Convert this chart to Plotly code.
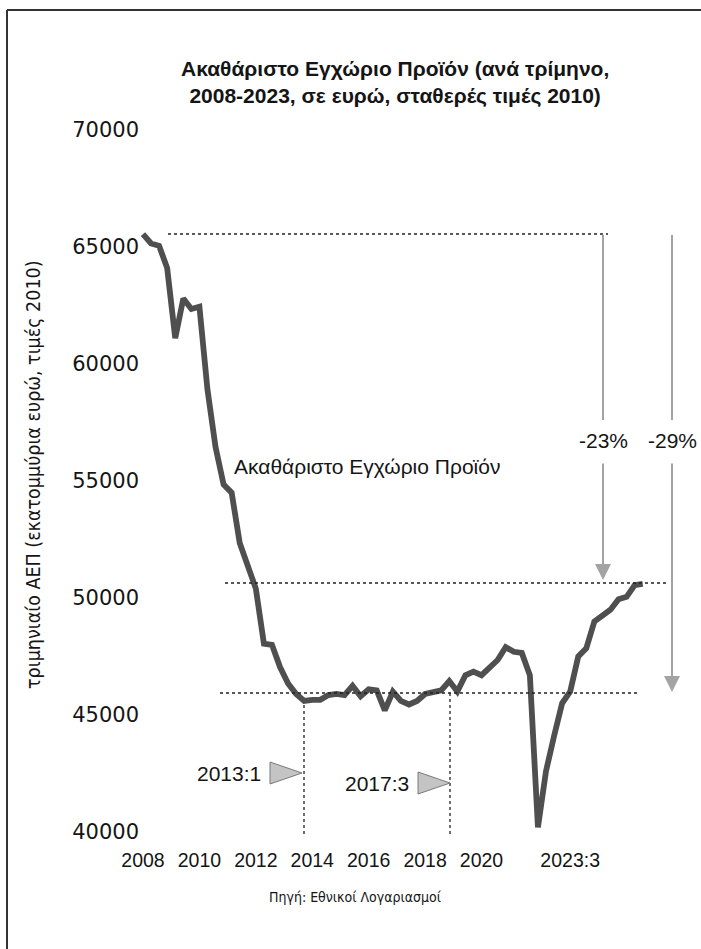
import plotly.graph_objects as go

# ---------------- data ----------------
years = list(range(2008, 2024))
quarters = [f"{y}:{q}" for y in years for q in (1, 2, 3, 4)][:63]   # 2008:1 ... 2023:3

gdp = [65550, 65150, 65050, 64100, 61100, 62800, 62350, 62450,
       58900, 56450, 54850, 54500, 52350, 51450, 50400, 48050,
       48000, 47050, 46350, 45900, 45600, 45650, 45650, 45850,
       45900, 45850, 46250, 45800, 46100, 46050, 45200, 46000,
       45600, 45450, 45600, 45900, 45950, 46050, 46450, 46000,
       46700, 46850, 46700, 47050, 47350, 47900, 47700, 47650,
       46700, 40200, 42600, 44100, 45500, 46000, 47500, 47850,
       49000, 49250, 49500, 49950, 50050, 50550, 50600]

tick_cats = ["2008:1", "2009:4", "2011:3", "2013:2", "2015:1", "2016:4", "2018:3", "2021:2"]
tick_text = ["2008", "2010", "2012", "2014", "2016", "2018", "2020", "2023:3"]
y_ticks = [40000, 45000, 50000, 55000, 60000, 65000, 70000]

title_text = "Ακαθάριστο Εγχώριο Προϊόν (ανά τρίμηνο,<br>2008-2023, σε ευρώ, σταθερές τιμές 2010)"
series_label = "Ακαθάριστο Εγχώριο Προϊόν"
y_title = "τριμηνιαίο ΑΕΠ (εκατομμύρια ευρώ, τιμές 2010)"
source_text = "Πηγή: Εθνικοί Λογαριασμοί"
drop_labels = ["-23%", "-29%"]
marker_labels = ["2013:1", "2017:3"]

# ---------------- layout geometry (pixels) ----------------
W, H = 701, 949
L, R, T, B = 140, 690, 130, 832
PW, PH = R - L, B - T


def px(x):
    return (x - L) / PW


def py(y):
    return (B - y) / PH


FONT = "Liberation Sans, Arial, sans-serif"
NARROW = "Liberation Sans Narrow, DejaVu Sans Condensed, Arial Narrow, Liberation Sans, sans-serif"
LINE_COL = "#4f4f4f"
ARROW_COL = "#a3a3a3"
TXT = "#151515"

fig = go.Figure()
fig.add_trace(go.Scatter(x=quarters, y=gdp, mode="lines",
                         line=dict(color=LINE_COL, width=5.8),
                         showlegend=False, hoverinfo="skip"))

x0 = (L - 143) / 8.06
fig.update_xaxes(type="category", range=[x0, x0 + PW / 8.06],
                 tickmode="array", tickvals=tick_cats, ticktext=tick_text,
                 showgrid=False, zeroline=False, showline=False, ticks="",
                 ticklabelstandoff=14,
                 tickfont=dict(family=FONT, size=19.5, color=TXT))
fig.update_yaxes(range=[40000, 70000], tickmode="array", tickvals=y_ticks,
                 ticktext=[str(v) for v in y_ticks],
                 showgrid=False, zeroline=False, showline=False, ticks="",
                 tickfont=dict(family="DejaVu Sans, sans-serif", size=21, color=TXT))

shapes = []
# frame
shapes.append(dict(type="line", xref="paper", yref="paper", x0=px(7), x1=px(7), y0=py(10), y1=py(960),
                   line=dict(color="#333", width=2)))
shapes.append(dict(type="line", xref="paper", yref="paper", x0=px(7), x1=px(710), y0=py(10), y1=py(10),
                   line=dict(color="#333", width=2)))


def dotted(x_a, y_a, x_b, y_b):
    shapes.append(dict(type="line", xref="paper", yref="paper", x0=px(x_a), x1=px(x_b),
                       y0=py(y_a), y1=py(y_b), line=dict(color="#222", width=1.3, dash="dot")))


dotted(168, 234, 608, 234)
dotted(225, 583, 668, 583)
dotted(220, 693, 640, 693)
dotted(304, 705, 304, 835)
dotted(450, 693, 450, 835)

# arrow shafts (upper parts)
for xa in (603, 672):
    shapes.append(dict(type="line", xref="paper", yref="paper", x0=px(xa), x1=px(xa),
                       y0=py(235), y1=py(420), line=dict(color=ARROW_COL, width=2)))

# gray triangles
for (xl, xr, yc) in ((270, 302, 773), (418, 450, 783)):
    path = f"M {px(xl)} {py(yc - 11)} L {px(xr)} {py(yc)} L {px(xl)} {py(yc + 11)} Z"
    shapes.append(dict(type="path", xref="paper", yref="paper", path=path,
                       fillcolor="#c4c4c4", line=dict(color="#7a7a7a", width=1)))

annotations = []
# lower arrow parts with heads
for xa, ytip in ((603, 580), (672, 692)):
    annotations.append(dict(xref="paper", yref="paper", x=px(xa), y=py(ytip), text="",
                            showarrow=True, axref="pixel", ayref="pixel", ax=0, ay=-(ytip - 462),
                            arrowhead=2, arrowsize=1.6, arrowwidth=2, arrowcolor=ARROW_COL))

annotations.append(dict(xref="paper", yref="paper", x=px(395), y=py(82), text=f"<b>{title_text}</b>",
                        showarrow=False, font=dict(family=FONT, size=21, color=TXT),
                        xanchor="center", yanchor="middle"))
annotations.append(dict(xref="paper", yref="paper", x=px(232), y=py(466), text=series_label,
                        showarrow=False, font=dict(family=FONT, size=21, color=TXT),
                        xanchor="left", yanchor="middle"))
for xa, lab in zip((603, 672), drop_labels):
    annotations.append(dict(xref="paper", yref="paper", x=px(xa), y=py(440), text=lab,
                            showarrow=False, font=dict(family=FONT, size=21, color=TXT),
                            xanchor="center", yanchor="middle"))
for (xr, yc), lab in zip(((263, 773), (411, 783)), marker_labels):
    annotations.append(dict(xref="paper", yref="paper", x=px(xr), y=py(yc), text=lab,
                            showarrow=False, font=dict(family=FONT, size=21, color=TXT),
                            xanchor="right", yanchor="middle"))
annotations.append(dict(xref="paper", yref="paper", x=px(355), y=py(897), text=source_text,
                        showarrow=False, font=dict(family=NARROW, size=14, color=TXT),
                        xanchor="center", yanchor="middle"))
annotations.append(dict(xref="paper", yref="paper", x=px(33), y=py(475), text=y_title,
                        showarrow=False, textangle=-90, font=dict(family=NARROW, size=19.5, color=TXT),
                        xanchor="center", yanchor="middle"))

fig.update_layout(width=W, height=H, margin=dict(l=L, r=W - R, t=T, b=H - B, pad=0),
                  paper_bgcolor="white", plot_bgcolor="white",
                  shapes=shapes, annotations=annotations, showlegend=False)

fig.write_html("out.html", config={"displayModeBar": False},
               post_script="document.body.style.margin='0';document.body.style.overflow='hidden';")
